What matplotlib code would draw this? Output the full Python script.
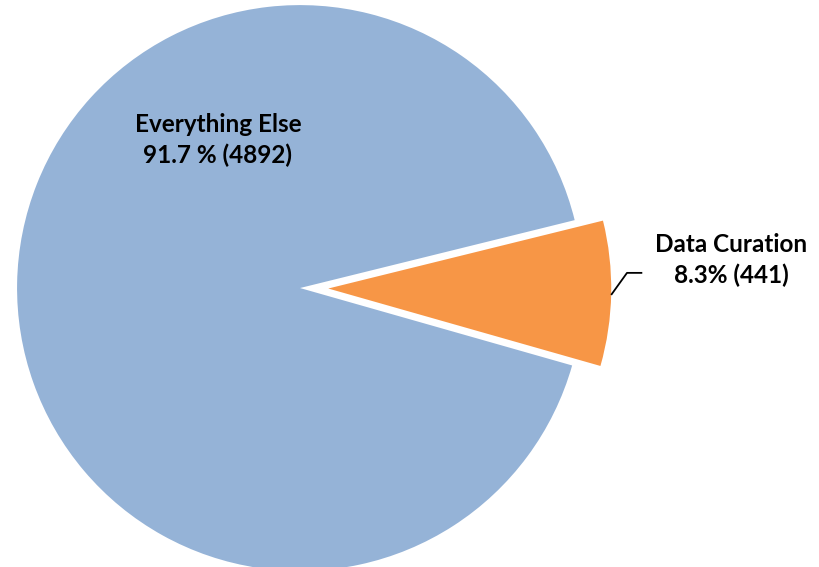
import matplotlib.pyplot as plt
import numpy as np

labels = ["Data Curation", "Everything Else"]
counts = [441, 4892]
pct_text = ["8.3%", "91.7 %"]
colors = ["#F79646", "#95B3D7"]

plt.rcParams["font.family"] = ["Lato", "DejaVu Sans"]

fig = plt.figure(figsize=(8.19, 5.67), dpi=100)
ax = fig.add_axes([0, 0, 1, 1])

# orange slice sits on the right, centred just below horizontal
share = counts[0] / sum(counts) * 360
start = -1.0 - share / 2
wedges, _ = ax.pie(counts, colors=colors, startangle=start, explode=[0.1, 0],
                   radius=1, center=(0, 0),
                   wedgeprops=dict(linewidth=0))

ax.set_xlim(-1.06, 1.834)
ax.set_ylim(-0.986, 1.018)
ax.set_aspect("equal")
ax.axis("off")

# leader line from the orange arc to its label
w = wedges[0]
mid = np.deg2rad((w.theta1 + w.theta2) / 2 - 0.3)
cx, cy = w.center
x0, y0 = cx + np.cos(mid), cy + np.sin(mid)
ax.plot([x0, x0 + 0.056, x0 + 0.11], [y0, y0 + 0.078, y0 + 0.078],
        color="black", lw=1.3, solid_capstyle="butt")

ax.text(1.523, 0.099, f"{labels[0]}\n{pct_text[0]} ({counts[0]})",
        ha="center", va="center", fontsize=17.5, fontweight="bold",
        linespacing=1.42)
ax.text(-0.29, 0.523, f"{labels[1]}\n{pct_text[1]} ({counts[1]})",
        ha="center", va="center", fontsize=17.5, fontweight="bold",
        linespacing=1.42)

fig.savefig("out.png", dpi=100)
